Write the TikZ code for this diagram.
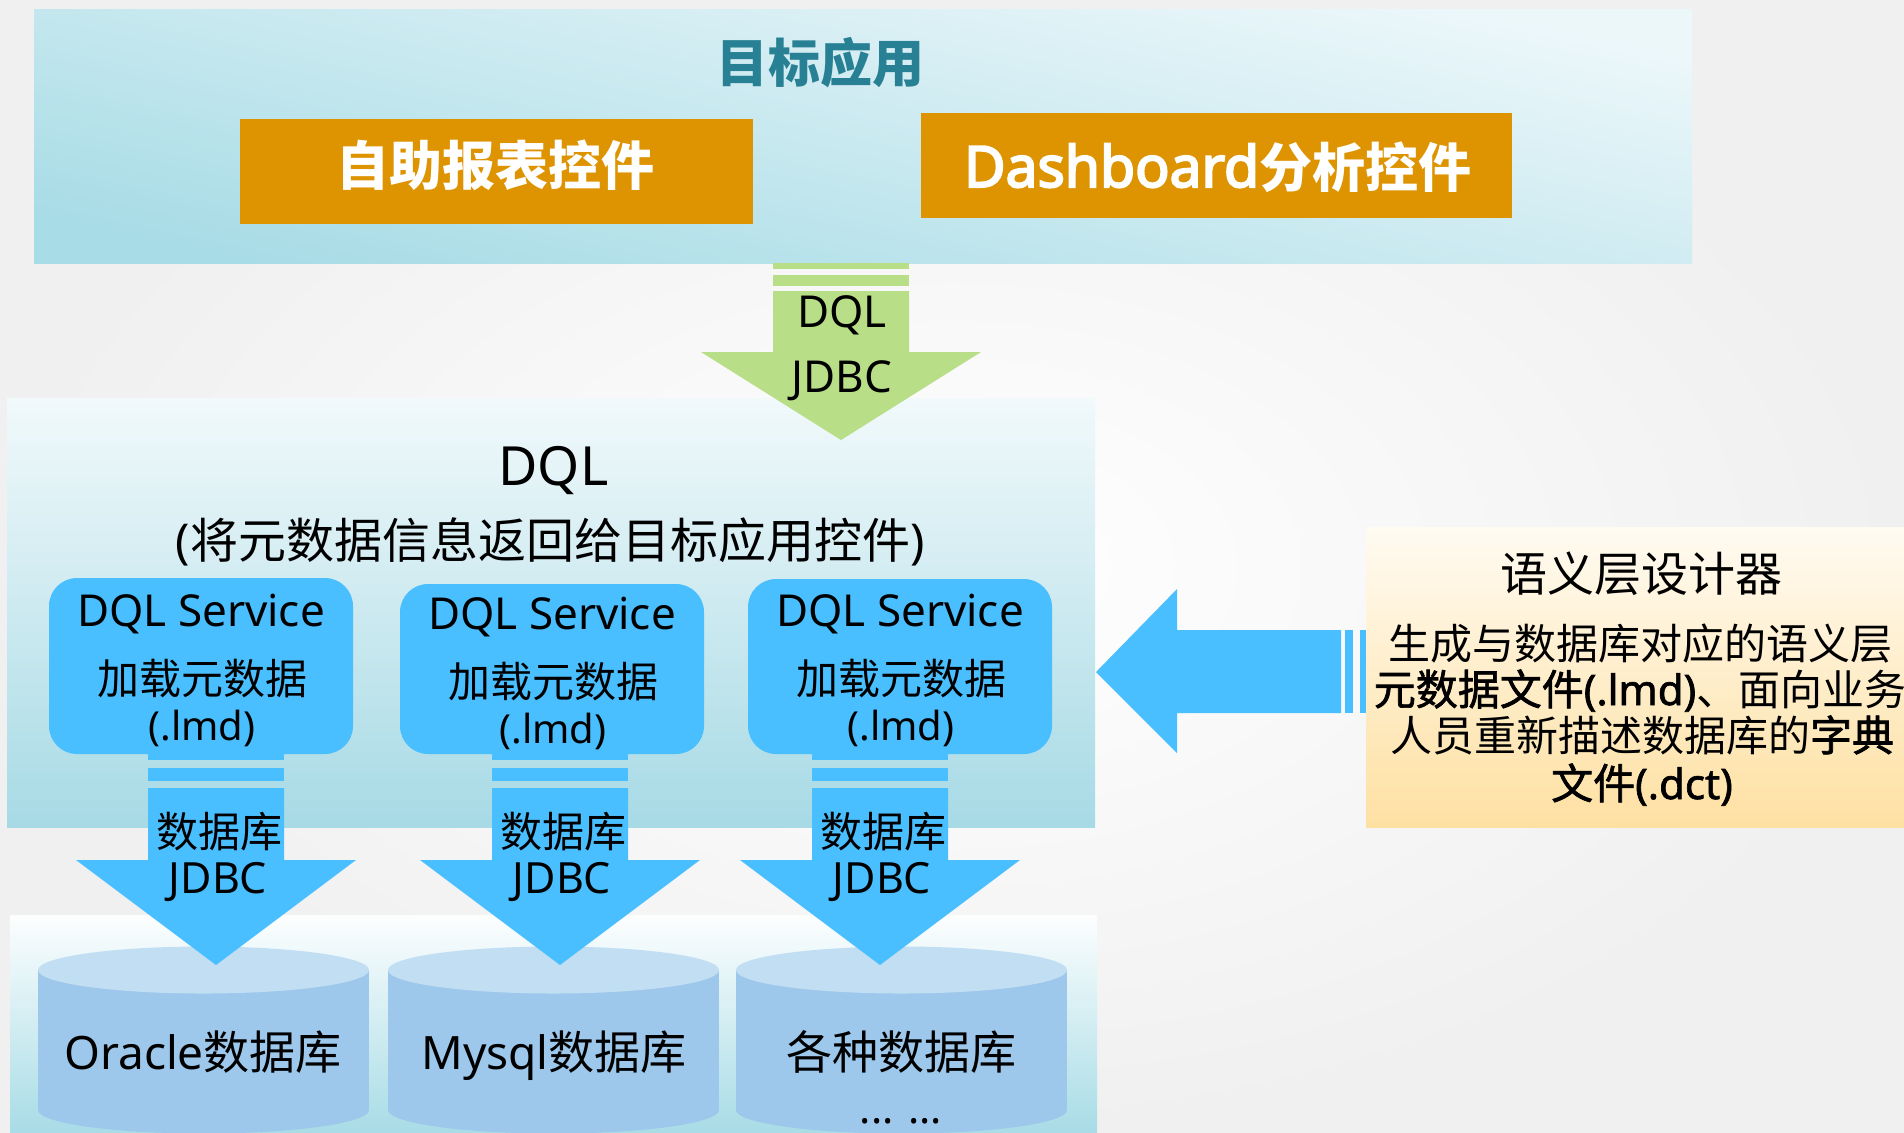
\documentclass[tikz,border=0pt]{standalone}
\usepackage{fontspec}
\setmainfont{Noto Sans CJK SC}
\newfontfamily\latn{Noto Sans}[AutoFakeBold=3.5]
% medium-weight emphasis for the designer description
\newfontfamily\cjkmed{Noto Sans CJK SC}[FakeBold=1.6]
\newfontfamily\latnmed{Noto Sans}[FakeBold=1.6]
\usetikzlibrary{calc}

\definecolor{bgedge}{RGB}{240,240,240}
\definecolor{bandlight}{RGB}{236,247,250}
\definecolor{banddark}{RGB}{168,220,230}
\definecolor{paneltop}{RGB}{241,249,251}
\definecolor{panelbot}{RGB}{167,218,229}
\definecolor{apptitle}{RGB}{40,128,148}
\definecolor{ctrlorange}{RGB}{222,147,0}
\definecolor{flowgreen}{RGB}{185,222,136}
\definecolor{svcblue}{RGB}{74,191,255}
\definecolor{dbtop}{RGB}{194,222,243}
\definecolor{dbbody}{RGB}{157,200,235}
\definecolor{creamtop}{RGB}{255,251,242}
\definecolor{creambot}{RGB}{254,224,162}

% font size given in pt, with its baseline skip
\newcommand\fs[2]{\fontsize{#1pt}{#2pt}\selectfont}

\tikzset{
  txt/.style={inner sep=0pt, outer sep=0pt, anchor=base},
  ctrlbox/.style={fill=ctrlorange, inner sep=0pt},
  ctrltxt/.style={txt, text=white, font=\fs{26.5}{30}\bfseries},
  svcbox/.style={fill=svcblue, rounded corners=14pt, inner sep=0pt, minimum width=152pt},
  svcname/.style={txt, font=\fs{22}{26}\latn},
  svcload/.style={txt, font=\fs{21}{24}},
  svcfile/.style={txt, font=\fs{20}{23}\latn},
  flowtxt/.style={txt, font=\fs{21}{24}},
  dblabel/.style={txt, font=\fs{23}{27}},
  desc/.style={txt, font=\fs{21}{23}},
}

\begin{document}
\begin{tikzpicture}[x=0.5pt,y=-0.5pt]
\useasboundingbox (0,0) rectangle (1904,1132);
\shade[inner color=white, outer color=bgedge] (0,0) rectangle (1904,1132);

% ---------- application layer ----------
\shade[top color=bandlight, bottom color=banddark, shading angle=-12] (34,9) rectangle (1692,263);
\node[txt, text=apptitle, font=\fs{26}{30}\bfseries] (apptitle) at (820,82.5) {目标应用};
\node[ctrlbox, minimum width=256.5pt, minimum height=52.5pt] (selfrep) at (496.5,171.5) {};
\node[ctrltxt] (selfrep-t) at (495,185.5) {自助报表控件};
\node[ctrlbox, minimum width=295.5pt, minimum height=52.5pt] (dash) at (1216.5,165.5) {};
\node[ctrltxt] (dash-t) at (1217.5,187) {{\latn\bfseries\fs{28.5}{32}Dashboard}分析控件};

% ---------- DQL layer ----------
\shade[top color=paneltop, bottom color=panelbot] (7,398) rectangle (1095,827);

% DQL / JDBC flow from the application layer
\fill[flowgreen] (773,263) rectangle (909,269);
\fill[flowgreen] (773,275) rectangle (909,286);
\fill[flowgreen] (773,291) -- (909,291) -- (909,352) -- (981,352) -- (841,440)
  -- (701,352) -- (773,352) -- cycle;
\node[txt, font=\fs{22}{26}\latn] (flow-dql) at (842,327) {DQL};
\node[txt, font=\fs{22}{26}\latn] (flow-jdbc) at (842,392) {JDBC};

\node[txt, font=\fs{27}{31}\latn] (dqltitle) at (553.5,485) {DQL};
\node[txt, font=\fs{24}{28}] (dqlnote) at (550,558) {{\latn (}将元数据信息返回给目标应用控件{\latn )}};

% DQL services
\node[svcbox, minimum height=88pt] (svc1) at (201,666) {};
\node[svcbox, minimum height=85pt] (svc2) at (552,669) {};
\node[svcbox, minimum height=87.5pt] (svc3) at (900,666.5) {};
\foreach \n/\cx/\dy in {1/201/0, 2/552/3, 3/900/0} {
  \node[svcname] (svc\n-name) at (\cx,626+\dy) {DQL Service};
  \node[svcload] (svc\n-load) at (\cx+1,694+\dy) {加载元数据};
  \node[svcfile] (svc\n-file) at (\cx+1,740+\dy) {(.lmd)};
}

% ---------- database layer ----------
\shade[top color=white!97!panelbot, bottom color=banddark] (10,915) rectangle (1097,1132);
\foreach \n/\cx in {1/203.5, 2/553.5, 3/901.5} {
  \fill[dbbody] (\cx-165.5,970) rectangle (\cx+165.5,1110);
  \fill[dbbody] (\cx,1110) ellipse [x radius=165.5, y radius=23.5];
  \fill[dbtop] (\cx,970) ellipse [x radius=165.5, y radius=23.5];
  \coordinate (db\n-top) at (\cx,970);
}
\node[dblabel] (db1-t) at (203,1069) {{\latn Oracle}数据库};
\node[dblabel] (db2-t) at (554,1069) {{\latn Mysql}数据库};
\node[dblabel] (db3-t) at (901,1069) {各种数据库};
\node[txt, font=\fs{21}{24}\latn] (db3-more) at (901,1123) {... ...};

% JDBC flows from each service down to its database
\foreach \n/\cx in {1/216, 2/560, 3/880} {
  \fill[svcblue] (\cx-68,754) rectangle (\cx+68,760);
  \fill[svcblue] (\cx-68,768) rectangle (\cx+68,781);
  \fill[svcblue] (\cx-68,788) -- (\cx+68,788) -- (\cx+68,860) -- (\cx+140,860)
    -- (\cx,965) -- (\cx-140,860) -- (\cx-68,860) -- cycle;
  \node[flowtxt] (jdbc\n-db) at (\cx+3,847.5) {数据库};
  \node[txt, font=\fs{21.5}{25}\latn] (jdbc\n-name) at (\cx+2,893) {JDBC};
}

% ---------- semantic layer designer ----------
\shade[top color=creamtop, bottom color=creambot] (1366,527) rectangle (1904,827);
\node[txt, font=\fs{23.5}{27}] (designer) at (1641,591) {语义层设计器};
\node[desc] (desc1) at (1640.5,659) {生成与数据库对应的语义层};
\node[desc] (desc2) at (1640,705) {{\cjkmed 元数据文件\latnmed (.lmd)}、面向业务};
\node[desc] (desc3) at (1642,751) {人员重新描述数据库的{\cjkmed 字典}};
\node[desc] (desc4) at (1642,799) {{\cjkmed 文件\latnmed (.dct)}};

% metadata flow from the designer into the DQL layer
\fill[svcblue] (1341,630) -- (1177,630) -- (1177,589) -- (1096,672) -- (1177,753)
  -- (1177,713) -- (1341,713) -- cycle;
\fill[svcblue] (1345,630) rectangle (1353,713);
\fill[svcblue] (1360,630) rectangle (1366,713);
\end{tikzpicture}
\end{document}
